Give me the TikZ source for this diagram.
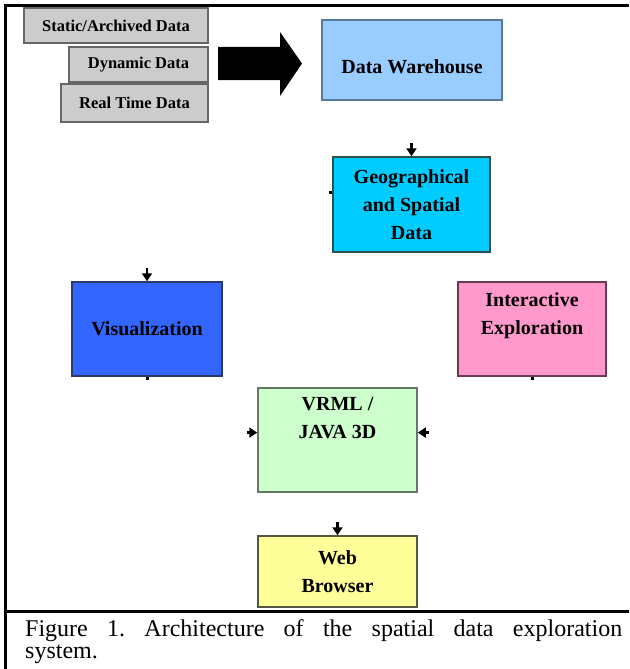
\documentclass[tikz,border=0pt]{standalone}
\usepackage{fontspec}
\setmainfont{Liberation Serif}
\usetikzlibrary{arrows.meta,calc}

\definecolor{srcfill}{HTML}{CCCCCC}
\definecolor{srcline}{HTML}{666666}
\definecolor{whfill}{HTML}{99CCFF}
\definecolor{whline}{HTML}{5A7A9A}
\definecolor{geofill}{HTML}{00CCFF}
\definecolor{geoline}{HTML}{2F4F4F}
\definecolor{visfill}{HTML}{3366FF}
\definecolor{visline}{HTML}{2A3A6A}
\definecolor{ixfill}{HTML}{FF99CC}
\definecolor{ixline}{HTML}{6A3A55}
\definecolor{vrfill}{HTML}{CCFFCC}
\definecolor{vrline}{HTML}{667766}
\definecolor{webfill}{HTML}{FFFF99}
\definecolor{webline}{HTML}{555544}

\begin{document}
\begin{tikzpicture}[x=1pt,y=-1pt,
    srcbox/.style={draw=srcline, fill=srcfill, line width=1.5pt, inner sep=0pt,
      font=\bfseries\fontsize{16.5}{20}\selectfont},
    blockbox/.style={line width=1.5pt, inner sep=0pt, align=center,
      font=\bfseries\fontsize{20}{28}\selectfont},
    stub/.style={-{Triangle[length=8pt,width=10pt]}, line width=2.5pt},
    tick/.style={line width=3pt}
  ]
    \useasboundingbox (0,0) rectangle (629,669);

    % Frame
    \draw[line width=3pt] (5.5,669) -- (5.5,6) -- (629,6);
    \draw[line width=3pt] (5.5,611.5) -- (629,611.5);

    % Data sources
    \node[srcbox, minimum width=184pt, minimum height=35pt] (static) at (116,25.5) {Static/Archived Data};
    \node[srcbox, minimum width=139pt, minimum height=35pt] (dynamic) at (138.5,64.5) {Dynamic Data};
    \node[srcbox, minimum width=147pt, minimum height=38pt] (realtime) at (134.5,103) {Real Time Data};

    % Block arrow into the warehouse
    \fill (218,47) -- (280,47) -- (280,32) -- (302,63.5) -- (280,96) -- (280,80) -- (218,80) -- cycle;

    % Blocks
    \node[blockbox, draw=whline, fill=whfill, minimum width=180pt, minimum height=80pt,
      text height=28pt] (warehouse) at (412,60) {Data Warehouse};
    \node[blockbox, draw=geoline, fill=geofill, minimum width=157pt, minimum height=95pt]
      (geo) at (411.5,204.5) {Geographical\\and Spatial\\Data};
    \node[blockbox, draw=visline, fill=visfill, minimum width=150pt, minimum height=94pt]
      (vis) at (147,329) {Visualization};
    \node[blockbox, draw=ixline, fill=ixfill, minimum width=148pt, minimum height=94pt,
      text depth=30pt] (explore) at (532,329) {Interactive\\Exploration};
    \node[blockbox, draw=vrline, fill=vrfill, minimum width=159pt, minimum height=104pt,
      text depth=45pt] (vrml) at (337.5,440) {VRML /\\JAVA 3D};
    \node[blockbox, draw=webline, fill=webfill, minimum width=159pt, minimum height=71pt]
      (web) at (337.5,571.5) {Web\\Browser};

    % Connector stubs
    \draw[stub] ($(geo.north)+(0,-13)$) -- (geo.north);
    \draw[stub] ($(vis.north)+(0,-13)$) -- (vis.north);
    \draw[stub] ($(web.north)+(0,-13)$) -- (web.north);
    \coordinate (vrl) at ($(vrml.north west)!0.43!(vrml.south west)$);
    \coordinate (vrr) at ($(vrml.north east)!0.43!(vrml.south east)$);
    \draw[stub] ($(vrl)+(-10,0)$) -- (vrl);
    \draw[stub] ($(vrr)+(11,0)$) -- (vrr);
    \coordinate (geol) at ($(geo.north west)!0.38!(geo.south west)$);
    \draw[tick] (geol) -- ++(-3,0);
    \draw[tick] (vis.south) -- ++(0,3);
    \draw[tick] (explore.south) -- ++(0,3);

    % Caption
    \node[anchor=north west, inner sep=0pt, align=left,
      font=\frenchspacing\fontsize{24}{21.5}\selectfont] (caption) at (25,619.6)
      {\makebox[597pt][s]{Figure 1. Architecture of the spatial data exploration}\\system.};
\end{tikzpicture}
\end{document}
